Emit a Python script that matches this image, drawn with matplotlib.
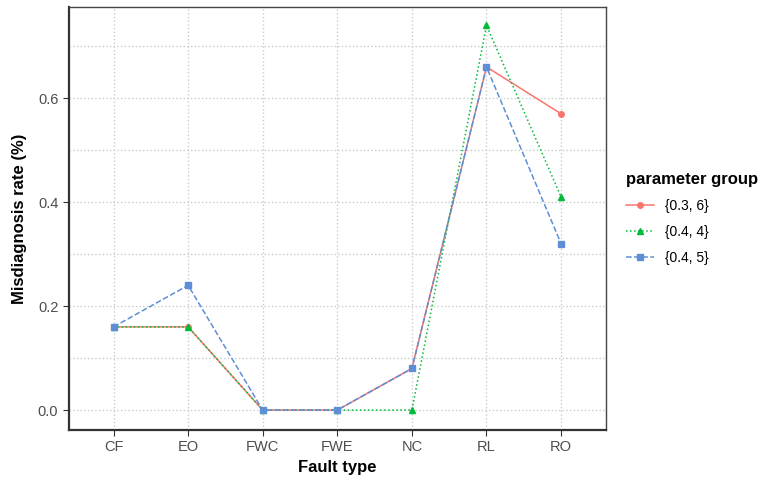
import numpy as np
import matplotlib.pyplot as plt
from matplotlib.ticker import MultipleLocator

plt.rcParams['font.family'] = ['Liberation Sans', 'DejaVu Sans']

fault_types = ["CF", "EO", "FWC", "FWE", "NC", "RL", "RO"]
group_labels = ["{0.3, 6}", "{0.4, 4}", "{0.4, 5}"]
rate_03_6 = [0.16, 0.16, 0.0, 0.0, 0.08, 0.66, 0.57]
rate_04_4 = [0.16, 0.16, 0.0, 0.0, 0.0, 0.74, 0.41]
rate_04_5 = [0.16, 0.24, 0.0, 0.0, 0.08, 0.66, 0.32]

colors = ["#F8766D", "#00BA38", "#5E8FD6"]
styles = ["-", ":", "--"]
markers = ["o", "^", "s"]

fig = plt.figure(figsize=(7.64, 4.8), dpi=100)
ax = fig.add_axes([0.090, 0.104, 0.703, 0.881])

x = np.arange(len(fault_types))
for vals, lab, c, ls, m in zip([rate_03_6, rate_04_4, rate_04_5], group_labels, colors, styles, markers):
    ax.plot(x, vals, color=c, linestyle=ls, marker=m, markersize=4, linewidth=1.1, label=lab)

ax.set_xlim(-0.6, len(fault_types) - 0.4)
ax.set_ylim(-0.0385, 0.775)
ax.set_xticks(x)
ax.set_xticklabels(fault_types)
ax.yaxis.set_major_locator(MultipleLocator(0.2))
ax.yaxis.set_minor_locator(MultipleLocator(0.1))
ax.yaxis.set_major_formatter(plt.FuncFormatter(lambda v, p: f"{v:.1f}"))
ax.tick_params(axis="y", which="minor", length=0)
ax.tick_params(axis="both", which="major", colors="#333333", labelcolor="#4d4d4d", labelsize=10.5, length=4)

ax.grid(True, which="major", color="#c8cccc", linestyle=":", linewidth=1)
ax.grid(True, which="minor", axis="y", color="#c8cccc", linestyle=":", linewidth=1)
ax.set_axisbelow(True)

for side in ["left", "bottom"]:
    ax.spines[side].set_linewidth(1.6)
    ax.spines[side].set_color("#333333")
for side in ["top", "right"]:
    ax.spines[side].set_linewidth(1.0)
    ax.spines[side].set_color("#444444")

ax.set_xlabel("Fault type", fontsize=12, fontweight="bold", labelpad=4)
ax.set_ylabel("Misdiagnosis rate (%)", fontsize=12, fontweight="bold", labelpad=8)

leg = ax.legend(loc="center left", bbox_to_anchor=(1.015, 0.50), frameon=False,
                title="parameter group", fontsize=10, handlelength=2.0, labelspacing=0.85)
leg.get_title().set_fontweight("bold")
leg.get_title().set_fontsize(12)
leg._legend_box.align = "left"

fig.savefig("out.png", dpi=100)
